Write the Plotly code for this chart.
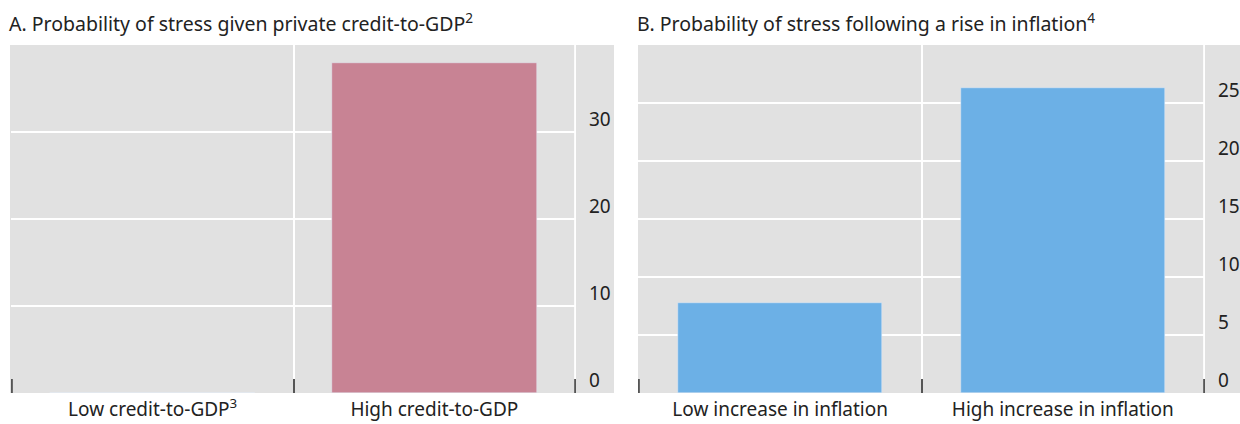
import plotly.graph_objects as go

# Panel A: probability of stress by private credit-to-GDP level (%)
credit_categories = ["Low credit-to-GDP<sup>3</sup>", "High credit-to-GDP"]
credit_values = [0, 37.9]

# Panel B: probability of stress by size of the inflation increase (%)
inflation_categories = ["Low increase in inflation", "High increase in inflation"]
inflation_values = [7.8, 26.3]

titles = [
    "A. Probability of stress given private credit-to-GDP<sup>2</sup>",
    "B. Probability of stress following a rise in inflation<sup>4</sup>",
]

W, H = 1240, 424
FONT = "Noto Sans"
TEXT = "#222222"
PANEL_BG = "#e1e1e1"
TICK = "#555555"


def px_x(v):
    return v / W


def px_y(v):
    return 1 - v / H


top_px, bottom_px = 45, 393
tick_frac = 14 / (bottom_px - top_px)

fig = go.Figure()
fig.add_trace(go.Bar(x=credit_categories, y=credit_values, marker_color="#c88394",
                     width=0.73, xaxis="x", yaxis="y", showlegend=False))
fig.add_trace(go.Bar(x=inflation_categories, y=inflation_values, marker_color="#6cb0e6",
                     width=0.72, xaxis="x2", yaxis="y2", showlegend=False))

common_x = dict(
    type="category", tickson="boundaries", ticks="inside", ticklen=14,
    tickwidth=2, tickcolor=TICK, showgrid=True, gridcolor="white",
    gridwidth=2, showline=False, zeroline=False, automargin=False,
    range=[-0.503, 1.503],
    tickfont=dict(family=FONT, size=19, color=TEXT), ticklabelstandoff=3,
)
common_y = dict(
    side="right", showgrid=True, gridcolor="white", gridwidth=2,
    zeroline=False, showline=False, ticks="", automargin=False,
    tickfont=dict(family=FONT, size=19, color=TEXT),
    ticklabelstandoff=12, ticklabelshift=-13,
)

ydom = [px_y(bottom_px), px_y(top_px)]

shapes = [
    dict(type="rect", xref="paper", yref="paper", layer="below",
         x0=px_x(10), x1=px_x(614), y0=ydom[0], y1=ydom[1],
         fillcolor=PANEL_BG, line_width=0),
    dict(type="rect", xref="paper", yref="paper", layer="below",
         x0=px_x(638), x1=1, y0=ydom[0], y1=ydom[1],
         fillcolor=PANEL_BG, line_width=0),
]
# outer category boundaries: short dark ticks, white separator on the right
for xr, yr in (("x", "y domain"), ("x2", "y2 domain")):
    shapes.append(dict(type="line", xref=xr, yref=yr, layer="below",
                       x0=1.5, x1=1.5, y0=0, y1=1,
                       line=dict(color="white", width=2)))
    for edge in (-0.5, 1.5):
        shapes.append(dict(type="line", xref=xr, yref=yr, layer="above",
                           x0=edge, x1=edge, y0=0, y1=tick_frac,
                           line=dict(color=TICK, width=2)))
# white gutter between the two panels
shapes.append(dict(type="rect", xref="paper", yref="paper", layer="above",
                   x0=px_x(614), x1=px_x(637), y0=ydom[0] - 0.02, y1=ydom[1],
                   fillcolor="white", line_width=0))

fig.update_layout(
    width=W, height=H, margin=dict(l=0, r=0, t=0, b=0),
    paper_bgcolor="white", plot_bgcolor="rgba(0,0,0,0)", bargap=0,
    xaxis=dict(domain=[px_x(11), px_x(576)], anchor="y", **common_x),
    yaxis=dict(domain=ydom, anchor="x", range=[0, 40], tickvals=[0, 10, 20, 30], **common_y),
    xaxis2=dict(domain=[px_x(638), px_x(1205)], anchor="y2", **common_x),
    yaxis2=dict(domain=ydom, anchor="x2", range=[0, 30], tickvals=[0, 5, 10, 15, 20, 25], **common_y),
    shapes=shapes,
    annotations=[
        dict(text=titles[0], xref="paper", yref="paper", x=px_x(7), y=px_y(22),
             xanchor="left", yanchor="middle", showarrow=False,
             font=dict(family=FONT, size=19.5, color=TEXT)),
        dict(text=titles[1], xref="paper", yref="paper", x=px_x(635), y=px_y(22),
             xanchor="left", yanchor="middle", showarrow=False,
             font=dict(family=FONT, size=19.5, color=TEXT)),
    ],
)

fig.write_html("out.html")
